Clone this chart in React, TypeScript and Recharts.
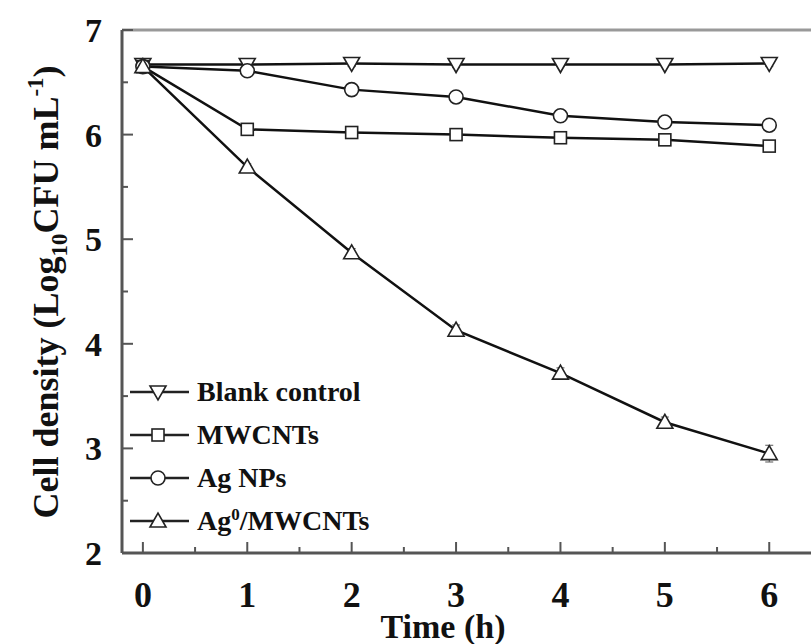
import React from 'react';
import { LineChart, Line, XAxis, YAxis, ReferenceLine, ErrorBar } from 'recharts';

const times = [0, 1, 2, 3, 4, 5, 6];
const blankControl = [6.67, 6.67, 6.68, 6.67, 6.67, 6.67, 6.68];
const mwcnts = [6.65, 6.05, 6.02, 6.0, 5.97, 5.95, 5.89];
const agNPs = [6.65, 6.61, 6.43, 6.36, 6.18, 6.12, 6.09];
const agMwcnts = [6.65, 5.69, 4.87, 4.13, 3.72, 3.25, 2.95];
const blankErr = [0.02, 0.02, 0.03, 0.03, 0.02, 0.02, 0.03];
const mwErr = [0.02, 0.02, 0.02, 0.02, 0.02, 0.02, 0.03];
const agErr = [0.02, 0.02, 0.03, 0.04, 0.03, 0.03, 0.03];
const agMwErr = [0.02, 0.03, 0.04, 0.05, 0.05, 0.05, 0.08];
const xTicks = [0, 0.5, 1, 1.5, 2, 2.5, 3, 3.5, 4, 4.5, 5, 5.5, 6];
const yTicks = [2, 2.5, 3, 3.5, 4, 4.5, 5, 5.5, 6, 6.5, 7];

const data = times.map((t, i) => ({
  t,
  blank: blankControl[i],
  mw: mwcnts[i],
  ag: agNPs[i],
  agmw: agMwcnts[i],
  blankE: blankErr[i],
  mwE: mwErr[i],
  agE: agErr[i],
  agmwE: agMwErr[i],
}));

const FONT = '"Liberation Serif", "Times New Roman", serif';
const AXIS = '#555';

type Shape = 'down' | 'square' | 'circle' | 'up';

const markerEl = (shape: Shape, cx: number, cy: number, key?: any) => {
  const common = { fill: '#fff', stroke: '#222', strokeWidth: 1.6 };
  if (shape === 'down') {
    return <path key={key} d={`M${cx - 8},${cy - 6} L${cx + 8},${cy - 6} L${cx},${cy + 8} Z`} {...common} />;
  }
  if (shape === 'up') {
    return <path key={key} d={`M${cx - 8},${cy + 6} L${cx + 8},${cy + 6} L${cx},${cy - 8} Z`} {...common} />;
  }
  if (shape === 'square') {
    return <rect key={key} x={cx - 6} y={cy - 6} width={12} height={12} {...common} />;
  }
  return <circle key={key} cx={cx} cy={cy} r={7} {...common} />;
};

const makeDot = (shape: Shape) => (props: any) => {
  const { cx, cy, index } = props;
  if (cx == null || cy == null) return <g key={index} />;
  return markerEl(shape, cx, cy, `${shape}-${index}`);
};

const XTick = (props: any) => {
  const { x, y, payload } = props;
  const v = payload.value;
  const major = Number.isInteger(v);
  return (
    <g>
      <line x1={x} x2={x} y1={y} y2={y - (major ? 11 : 6)} stroke={AXIS} strokeWidth={2} />
      {major && (
        <text x={x} y={y + 54} textAnchor="middle" fontFamily={FONT} fontWeight="bold" fontSize={36} fill="#111">
          {v}
        </text>
      )}
    </g>
  );
};

const YTick = (props: any) => {
  const { x, y, payload } = props;
  const v = payload.value;
  const major = Number.isInteger(v);
  return (
    <g>
      <line x1={x} x2={x + (major ? 11 : 6)} y1={y} y2={y} stroke={AXIS} strokeWidth={2} />
      {major && (
        <text x={x - 20} y={y + 12} textAnchor="end" fontFamily={FONT} fontWeight="bold" fontSize={34} fill="#111">
          {v}
        </text>
      )}
    </g>
  );
};

const YLabel = () => (
  <text
    transform="translate(58, 292) rotate(-90)"
    textAnchor="middle"
    fontFamily={FONT}
    fontWeight="bold"
    fontSize={36}
    fill="#111"
  >
    Cell density (Log
    <tspan dy={9} fontSize={23}>10</tspan>
    <tspan dy={-9}>CFU mL</tspan>
    <tspan dy={-15} fontSize={23}>-1</tspan>
    <tspan dy={15}>)</tspan>
  </text>
);

const XLabel = () => (
  <text x={443} y={638} textAnchor="middle" fontFamily={FONT} fontWeight="bold" fontSize={34} fill="#111">
    Time (h)
  </text>
);

const legendItems: { shape: Shape; label: React.ReactNode }[] = [
  { shape: 'down', label: 'Blank control' },
  { shape: 'square', label: 'MWCNTs' },
  { shape: 'circle', label: 'Ag NPs' },
  { shape: 'up', label: <span>Ag<sup style={{ fontSize: 17, verticalAlign: 'super', lineHeight: 0 }}>0</sup>/MWCNTs</span> },
];

const LegendBox = () => (
  <div
    style={{
      position: 'absolute',
      left: 129,
      top: 370,
      fontFamily: FONT,
      fontWeight: 'bold',
      fontSize: 28,
      color: '#111',
      pointerEvents: 'none',
    }}
  >
    {legendItems.map((it, i) => (
      <div key={i} style={{ display: 'flex', alignItems: 'center', height: 43 }}>
        <svg width={62} height={24} style={{ display: 'block' }}>
          <line x1={1} x2={60} y1={12} y2={12} stroke="#222" strokeWidth={2.5} />
          {markerEl(it.shape, 29, 12)}
        </svg>
        <span style={{ marginLeft: 6, whiteSpace: 'nowrap' }}>{it.label}</span>
      </div>
    ))}
  </div>
);

export default function App() {
  return (
    <div style={{ position: 'absolute', left: 0, top: 0, width: 811, height: 644, background: '#fff', overflow: 'hidden' }}>
      <LineChart width={811} height={644} data={data} margin={{ top: 30, right: 0, bottom: 0, left: 0 }}>
        <XAxis
          dataKey="t"
          type="number"
          domain={[-0.2, 6.4]}
          ticks={xTicks}
          interval={0}
          tickSize={0}
          tickMargin={0}
          tickLine={false}
          tick={<XTick />}
          stroke={AXIS}
          strokeWidth={3}
          height={91}
          label={<XLabel />}
        />
        <YAxis
          type="number"
          domain={[2, 7]}
          ticks={yTicks}
          interval={0}
          tickSize={0}
          tickMargin={0}
          tickLine={false}
          tick={<YTick />}
          stroke={AXIS}
          strokeWidth={3}
          width={122}
          label={<YLabel />}
        />
        <ReferenceLine y={7} stroke="#999" strokeWidth={3} />
        <Line dataKey="blank" stroke="#111" strokeWidth={2.5} dot={makeDot('down')} isAnimationActive={false}>
          <ErrorBar dataKey="blankE" width={4} stroke="#555" strokeWidth={1} />
        </Line>
        <Line dataKey="mw" stroke="#111" strokeWidth={2.5} dot={makeDot('square')} isAnimationActive={false}>
          <ErrorBar dataKey="mwE" width={4} stroke="#555" strokeWidth={1} />
        </Line>
        <Line dataKey="ag" stroke="#111" strokeWidth={2.5} dot={makeDot('circle')} isAnimationActive={false}>
          <ErrorBar dataKey="agE" width={4} stroke="#555" strokeWidth={1} />
        </Line>
        <Line dataKey="agmw" stroke="#111" strokeWidth={2.5} dot={makeDot('up')} isAnimationActive={false}>
          <ErrorBar dataKey="agmwE" width={4} stroke="#555" strokeWidth={1} />
        </Line>
      </LineChart>
      <LegendBox />
    </div>
  );
}
